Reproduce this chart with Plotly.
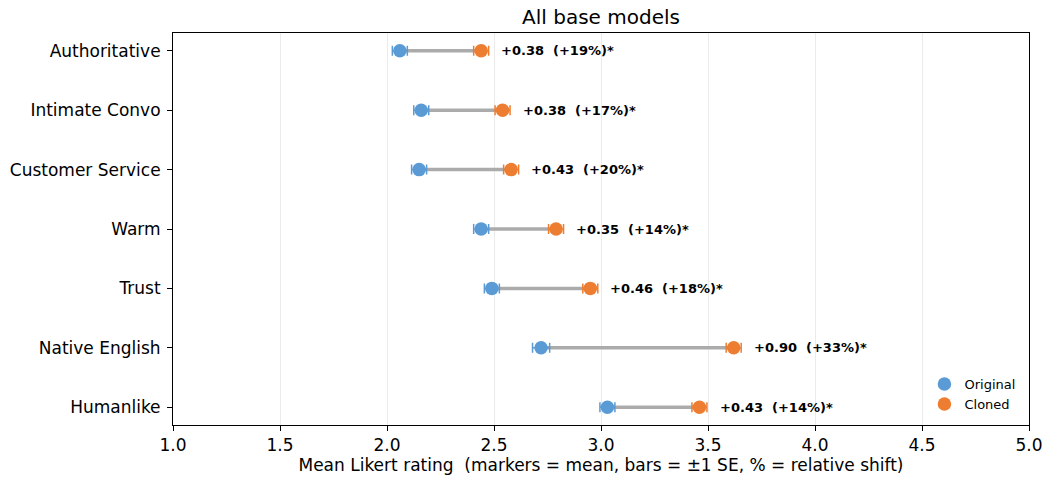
import plotly.graph_objects as go

categories = ["Humanlike", "Native English", "Trust", "Warm", "Customer Service", "Intimate Convo", "Authoritative"]
original_mean = [3.03, 2.72, 2.49, 2.44, 2.15, 2.16, 2.06]
cloned_mean = [3.46, 3.62, 2.95, 2.79, 2.58, 2.54, 2.44]
original_se = [0.035, 0.04, 0.035, 0.035, 0.035, 0.035, 0.035]
cloned_se = [0.035, 0.035, 0.035, 0.035, 0.035, 0.035, 0.035]
labels = ["+0.43  (+14%)*", "+0.90  (+33%)*", "+0.46  (+18%)*", "+0.35  (+14%)*",
          "+0.43  (+20%)*", "+0.38  (+17%)*", "+0.38  (+19%)*"]
x_ticks = [1.0, 1.5, 2.0, 2.5, 3.0, 3.5, 4.0, 4.5, 5.0]

BLUE = "#5b9bd5"
ORANGE = "#ed7d31"
FONT = "DejaVu Sans"

fig = go.Figure()

# connector lines
lx, ly = [], []
for i, c in enumerate(categories):
    lx += [original_mean[i], cloned_mean[i], None]
    ly += [c, c, None]
fig.add_trace(go.Scatter(x=lx, y=ly, mode="lines", line=dict(color="#ababab", width=3.5),
                         showlegend=False, hoverinfo="skip"))

fig.add_trace(go.Scatter(
    x=original_mean, y=categories, mode="markers", name="Original",
    marker=dict(color=BLUE, size=13.5),
    error_x=dict(type="data", array=original_se, color=BLUE, thickness=1.5, width=5)))
fig.add_trace(go.Scatter(
    x=cloned_mean, y=categories, mode="markers", name="Cloned",
    marker=dict(color=ORANGE, size=13.5),
    error_x=dict(type="data", array=cloned_se, color=ORANGE, thickness=1.5, width=5)))

for i, c in enumerate(categories):
    fig.add_annotation(x=cloned_mean[i] + cloned_se[i] + 0.05, y=c, xref="x", yref="y",
                       text="<b>" + labels[i].replace(" ", "\u00a0") + "</b>",
                       showarrow=False, xanchor="left", yanchor="middle",
                       font=dict(family=FONT, size=13, color="black"))

fig.update_layout(
    width=1046, height=479,
    margin=dict(l=173, r=17, t=33, b=54, autoexpand=False),
    paper_bgcolor="white", plot_bgcolor="white",
    font=dict(family=FONT, color="black"),
    title=dict(text="All base models", x=(173 + 1029) / 2 / 1046, xanchor="center",
               y=1 - 17 / 479, yanchor="middle", font=dict(size=20, family=FONT, color="black")),
    legend=dict(x=0.99, y=0.015, xanchor="right", yanchor="bottom", bgcolor="rgba(0,0,0,0)",
                font=dict(size=13, family=FONT), itemwidth=30, tracegroupgap=0),
    showlegend=True,
)
fig.update_xaxes(range=[1.0, 5.0], tickvals=x_ticks, ticktext=[f"{v:.1f}" for v in x_ticks],
                 showgrid=True, gridcolor="#ebebeb", gridwidth=1,
                 showline=True, linecolor="black", linewidth=1, mirror=True,
                 ticks="outside", ticklen=5, tickcolor="black", automargin=False,
                 tickfont=dict(size=17, family=FONT),
                 title=dict(text="Mean Likert rating  (markers = mean, bars = \u00b11 SE, % = relative shift)".replace("  ", "\u00a0\u00a0"),
                            font=dict(size=17, family=FONT), standoff=4),
                 zeroline=False)
fig.update_yaxes(type="category", categoryorder="array", categoryarray=categories,
                 range=[-0.3, 6.3], showgrid=False, automargin=False,
                 showline=True, linecolor="black", linewidth=1, mirror=True,
                 ticks="outside", ticklen=5, tickcolor="black", ticklabelstandoff=3,
                 tickfont=dict(size=17, family=FONT), zeroline=False)

fig.write_html("out.html", config={"displayModeBar": False},
               post_script="document.body.style.margin='0';document.body.style.padding='0';")
